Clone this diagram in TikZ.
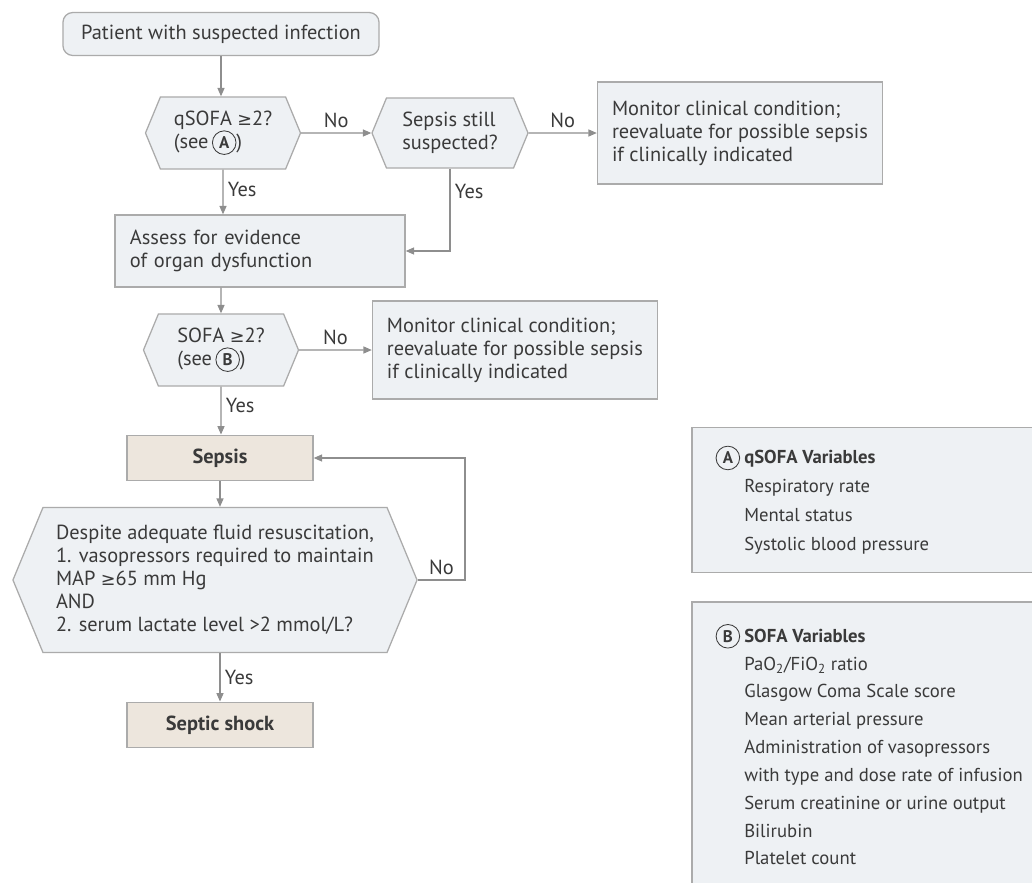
\documentclass[tikz,border=0pt]{standalone}
\usepackage{fontspec}
\setmainfont{PT Sans}
\newfontfamily\symfont{DejaVu Sans}
\usetikzlibrary{shapes.symbols,arrows.meta,positioning}
\definecolor{edgegray}{HTML}{ABABAB}
\definecolor{boxfill}{HTML}{EEF1F4}
\definecolor{tanfill}{HTML}{EDE6DD}
\definecolor{ink}{HTML}{3A3A3A}
\definecolor{arrowgray}{HTML}{8E8E8E}

\newcommand{\circled}[1]{\tikz[baseline=(ltr.base)]\node[shape=circle,draw=ink,fill=none,line width=0.6pt,minimum width=0pt,minimum height=0pt,inner sep=2pt,font=\bfseries\fontsize{12}{13}\selectfont](ltr){#1};}
\newcommand{\gesym}{{\symfont\fontsize{12.5}{16}\selectfont ≥}}

\tikzset{
  base/.style={draw=edgegray, line width=0.9pt, fill=boxfill, text=ink, inner sep=0pt},
  startbox/.style={base, rectangle, rounded corners=7pt, minimum width=7.9cm, minimum height=1.075cm},
  decision/.style={base, shape=signal, signal to=west and east, signal pointer angle=135, align=left},
  infobox/.style={base, rectangle, align=left},
  result/.style={base, rectangle, fill=tanfill, font=\fontsize{14.5}{16.3}\selectfont\bfseries, minimum width=4.65cm, minimum height=1.14cm},
  panel/.style={base, rectangle, minimum width=8.75cm},
  arr/.style={draw=arrowgray, line width=0.9pt, -{Triangle[length=6pt,width=5pt]}},
  lbl/.style={text=ink, inner sep=3pt},
}

\begin{document}
\begin{tikzpicture}[x=0.025cm, y=-0.025cm, font=\fontsize{14.5}{16.3}\selectfont]
\useasboundingbox (0,0) rectangle (1032,882);

% flow column
\node[startbox] (start) at (221,34) {Patient with suspected infection};
\node[decision, minimum width=3.875cm, minimum height=1.8cm] (qsofa) at (223,133) {qSOFA \gesym2?\\(see\,\circled{A})};
\node[decision, minimum width=3.9cm, minimum height=1.75cm] (still) at (450,133) {Sepsis still\\suspected?};
\node[infobox, minimum width=7.125cm, minimum height=2.55cm] (mon1) at (740,133) {Monitor clinical condition;\\reevaluate for possible sepsis\\if clinically indicated};
\node[infobox, text width=6.5cm, inner xsep=0.375cm, minimum height=1.8cm] (assess) at (260,251) {Assess for evidence\\of organ dysfunction};
\node[decision, minimum width=3.875cm, minimum height=1.8cm] (sofa) at (221,350) {SOFA \gesym2?\\(see\,\circled{B})};
\node[infobox, minimum width=7.125cm, minimum height=2.45cm] (mon2) at (515,350) {Monitor clinical condition;\\reevaluate for possible sepsis\\if clinically indicated};
\node[result] (sepsis) at (220,458) {Sepsis};
\node[decision, minimum width=10.1cm, minimum height=3.625cm] (crit) at (215,580) {Despite adequate fluid resuscitation,\\1. vasopressors required to maintain\\MAP \gesym65 mm Hg\\AND\\2. serum lactate level >2 mmol/L?};
\node[result] (shock) at (220,725) {Septic shock};
\coordinate (fb) at (465,580);

% variable panels
\node[panel, minimum height=3.625cm] (panelA) at (867,500) {};
\node[anchor=west, align=left, text=ink, font=\fontsize{13.3}{20.5}\selectfont] (varsA) at ([xshift=1.2cm]panelA.west) {\llap{\circled{A}\hspace{3pt}}\textbf{qSOFA Variables}\\Respiratory rate\\Mental status\\Systolic blood pressure};
\node[panel, minimum height=7.25cm] (panelB) at (867,747) {};
\node[anchor=west, align=left, text=ink, font=\fontsize{13.3}{19.8}\selectfont] (varsB) at ([xshift=1.2cm,yshift=0.06cm]panelB.west) {\llap{\circled{B}\hspace{3pt}}\textbf{SOFA Variables}\\PaO\textsubscript{2}/FiO\textsubscript{2} ratio\\Glasgow Coma Scale score\\Mean arterial pressure\\Administration of vasopressors\\with type and dose rate of infusion\\Serum creatinine or urine output\\Bilirubin\\Platelet count};

% connectors
\draw[arr] (start) -- (start |- qsofa.north);
\draw[arr] (qsofa) -- node[lbl,above]{No} (still);
\draw[arr] (still) -- node[lbl,above]{No} (mon1);
\draw[arr] (qsofa) -- node[lbl,right,pos=0.45]{Yes} (qsofa |- assess.north);
\draw[arr] (still) |- node[lbl,right,pos=0.14]{Yes} (assess);
\draw[arr] (sofa |- assess.south) -- (sofa);
\draw[arr] (sofa) -- node[lbl,above]{No} (mon2);
\draw[arr] (sofa) -- node[lbl,right,pos=0.4]{Yes} (sofa |- sepsis.north);
\draw[arr] (sepsis) -- (sepsis |- crit.north);
\draw[arr] (crit.east) -- node[lbl,above]{No} (fb) |- (sepsis);
\draw[arr] (shock |- crit.south) -- node[lbl,right]{Yes} (shock);
\end{tikzpicture}
\end{document}
